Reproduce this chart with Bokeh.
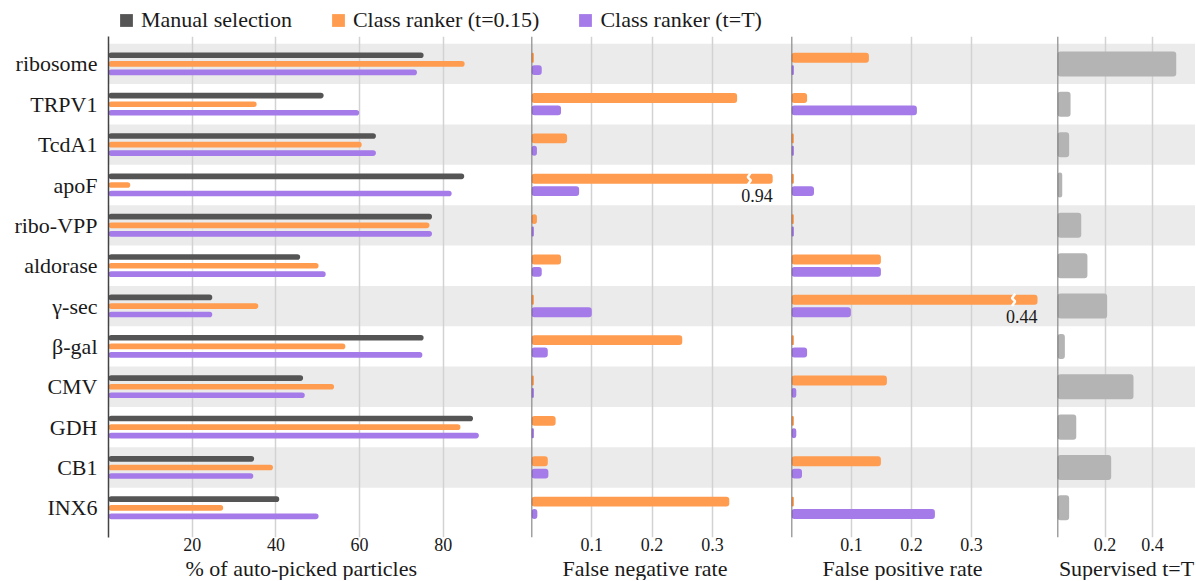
from bokeh.plotting import figure
from bokeh.models import Range1d, FixedTicker, Span, Title, Legend, LegendItem
from bokeh.layouts import column, row
from bokeh.embed import file_html
from bokeh.resources import INLINE
from bokeh.core.properties import value

# ---------------- data ----------------
categories = ["ribosome", "TRPV1", "TcdA1", "apoF", "ribo-VPP", "aldorase",
              "γ-sec", "β-gal", "CMV", "GDH", "CB1", "INX6"]
manual_pct = [75.3, 51.4, 63.9, 85.0, 77.3, 45.8, 24.8, 75.3, 46.5, 87.1, 34.8, 40.8]
ranker015_pct = [85.1, 35.4, 60.5, 5.2, 76.7, 50.2, 35.8, 56.6, 53.9, 84.1, 39.3, 27.4]
rankerT_pct = [73.7, 59.9, 63.9, 82.0, 77.3, 51.9, 24.8, 75.0, 46.9, 88.5, 34.6, 50.2]
fnr_015 = [0.004, 0.341, 0.059, 0.94, 0.009, 0.049, 0.004, 0.25, 0.004, 0.04, 0.027, 0.328]
fnr_T = [0.017, 0.049, 0.009, 0.079, 0.004, 0.017, 0.10, 0.027, 0.004, 0.004, 0.028, 0.0097]
fpr_015 = [0.129, 0.026, 0.004, 0.004, 0.004, 0.149, 0.44, 0.004, 0.159, 0.004, 0.149, 0.004]
fpr_T = [0.004, 0.209, 0.004, 0.0375, 0.004, 0.149, 0.099, 0.026, 0.008, 0.008, 0.0175, 0.239]
supervised_T = [0.50, 0.055, 0.049, 0.02, 0.10, 0.126, 0.209, 0.031, 0.32, 0.079, 0.226, 0.049]
pct_ticks = [20, 40, 60, 80]
rate_ticks = [0.1, 0.2, 0.3]
sup_ticks = [0.2, 0.4]
legend_labels = ["Manual selection", "Class ranker (t=0.15)", "Class ranker (t=T)"]
axis_titles = ["% of auto-picked particles", "False negative rate",
               "False positive rate", "Supervised t=T"]
FNR_CAP = 0.40
FPR_CAP = 0.41

# ---------------- style ----------------
FONT = "Liberation Serif, Times New Roman, serif"
C_DARK = "#555555"
C_ORANGE = "#ff9c4f"
C_PURPLE = "#a47be8"
C_GRAYBAR = "#b4b4b4"
C_BAND = "#ebebeb"
C_GRID = "#d2d2d2"
C_AXIS = "#444444"
TXT = "#1a1a1a"

n = len(categories)
ys = [n - 1 - i for i in range(n)]          # ribosome on top
Y0, Y1 = -0.5 - 0.235, n - 0.5 + 0.18
LEG_H = 33
ROW_H = 547
TOTAL_W = 1195


def make_panel(width, x_end, ticks, title, title_offset, left_border=0, show_y=False):
    p = figure(width=width, height=ROW_H,
               x_range=Range1d(0, x_end), y_range=Range1d(Y0, Y1),
               output_backend="svg", toolbar_location=None,
               y_axis_location="left" if show_y else None,
               min_border_left=left_border, min_border_right=0,
               min_border_top=3, min_border_bottom=0)
    p.outline_line_color = None
    p.background_fill_color = "white"
    # alternating bands
    band_y = [ys[i] for i in range(n) if i % 2 == 0]
    p.hbar(y=band_y, left=-1e3, right=1e3, height=1.0,
           fill_color=C_BAND, line_color=None, level="image")
    # grid
    p.xgrid.ticker = FixedTicker(ticks=ticks)
    p.xgrid.grid_line_color = C_GRID
    p.xgrid.grid_line_width = 1.5
    p.ygrid.visible = False
    # x axis
    ax = p.xaxis[0]
    ax.ticker = FixedTicker(ticks=ticks)
    ax.axis_line_color = None
    ax.major_tick_line_color = None
    ax.minor_tick_line_color = None
    ax.major_tick_out = 0
    ax.major_tick_in = 0
    ax.minor_tick_out = 0
    ax.major_label_text_font = FONT
    ax.major_label_text_font_size = "18px"
    ax.major_label_text_color = TXT
    ax.major_label_standoff = 0
    t = Title(text=title, align="left" if title_offset is not None else "center",
              offset=title_offset or 0, text_font=FONT, text_font_size="22px",
              text_font_style="normal", text_color=TXT, standoff=0)
    p.add_layout(t, "below")
    if show_y:
        ya = p.yaxis[0]
        ya.ticker = FixedTicker(ticks=ys)
        ya.major_label_overrides = {y: c for y, c in zip(ys, categories)}
        ya.axis_line_color = C_AXIS
        ya.axis_line_width = 1.5
        ya.major_tick_line_color = None
        ya.minor_tick_line_color = None
        ya.major_tick_out = 0
        ya.major_tick_in = 0
        ya.minor_tick_out = 0
        ya.major_label_text_font = FONT
        ya.major_label_text_font_size = "22px"
        ya.major_label_text_color = TXT
        ya.major_label_standoff = 11
    else:
        p.add_layout(Span(location=0, dimension="height",
                          line_color=C_AXIS, line_width=1.5))
    return p


def broken(p, vals, cap, yoff, h):
    idx = [i for i, v in enumerate(vals) if v > cap]
    if idx:
        span = p.x_range.end - p.x_range.start
        d = span * 0.006
        xs_l, ys_l = [], []
        for i in idx:
            bx = cap - span * 0.09
            yc = ys[i] + yoff
            xs_l.append([bx + d, bx - d, bx + d, bx - d])
            ys_l.append([yc + h / 2 + 0.03, yc + h / 6, yc - h / 6, yc - h / 2 - 0.03])
        p.multi_line(xs=xs_l, ys=ys_l, line_color="white", line_width=2.5)
        p.text(x=[cap for i in idx], y=[ys[i] - 0.27 for i in idx],
               text=[f"{vals[i]:.2f}" for i in idx],
               text_align="right", text_baseline="middle",
               text_font=value(FONT), text_font_size="18px", text_color=TXT)


# panel 1
p1 = make_panel(531, 423 / 4.185, pct_ticks, axis_titles[0], 77, left_border=108, show_y=True)
H1 = 0.14
for vals, off, col in [(manual_pct, 0.215, C_DARK), (ranker015_pct, 0.0, C_ORANGE),
                       (rankerT_pct, -0.21, C_PURPLE)]:
    p1.hbar(y=[y + off for y in ys], left=0, right=vals, height=H1,
            fill_color=col, line_color=None, border_radius=3)

# panel 2
p2 = make_panel(260, 260 / 603, rate_ticks, axis_titles[1], 31)
H2 = 0.245
fnr_show = [min(v, FNR_CAP) for v in fnr_015]
p2.hbar(y=[y + 0.155 for y in ys], left=0, right=fnr_show, height=H2,
        fill_color=C_ORANGE, line_color=None, border_radius=3)
p2.hbar(y=[y - 0.152 for y in ys], left=0, right=fnr_T, height=H2,
        fill_color=C_PURPLE, line_color=None, border_radius=3)
broken(p2, fnr_015, FNR_CAP, 0.155, H2)

# panel 3
p3 = make_panel(266, 266 / 600, rate_ticks, axis_titles[2], 31)
fpr_show = [min(v, FPR_CAP) for v in fpr_015]
p3.hbar(y=[y + 0.155 for y in ys], left=0, right=fpr_show, height=H2,
        fill_color=C_ORANGE, line_color=None, border_radius=3)
p3.hbar(y=[y - 0.152 for y in ys], left=0, right=fpr_T, height=H2,
        fill_color=C_PURPLE, line_color=None, border_radius=3)
broken(p3, fpr_015, FPR_CAP, 0.155, H2)

# panel 4
W4 = TOTAL_W - 531 - 260 - 266
p4 = make_panel(W4, W4 / 237.5, sup_ticks, axis_titles[3], None)
p4.hbar(y=ys, left=0, right=supervised_T, height=0.62,
        fill_color=C_GRAYBAR, line_color=None, border_radius=3)

# legend strip
lp = figure(width=TOTAL_W, height=LEG_H, x_range=Range1d(0, 1), y_range=Range1d(0, 1),
            output_backend="svg", toolbar_location=None,
            x_axis_location=None, y_axis_location=None, min_border=0)
lp.outline_line_color = None
lp.grid.visible = False
items = []
for lab, col in zip(legend_labels, [C_DARK, C_ORANGE, C_PURPLE]):
    r = lp.quad(left=[-3], right=[-2], top=[-2], bottom=[-3], fill_color=col, line_color=None)
    items.append(LegendItem(label=lab, renderers=[r]))
leg = Legend(items=items, orientation="horizontal", location=(118, 0),
             glyph_width=16, glyph_height=16, label_standoff=7, spacing=38,
             padding=0, margin=0, border_line_color=None, background_fill_alpha=0,
             label_text_font=FONT, label_text_font_size="22px", label_text_color=TXT,
             label_height=16)
lp.add_layout(leg)

layout = column(lp, row(p1, p2, p3, p4, spacing=0), spacing=0)
open("out.html", "w").write(file_html(layout, INLINE))
